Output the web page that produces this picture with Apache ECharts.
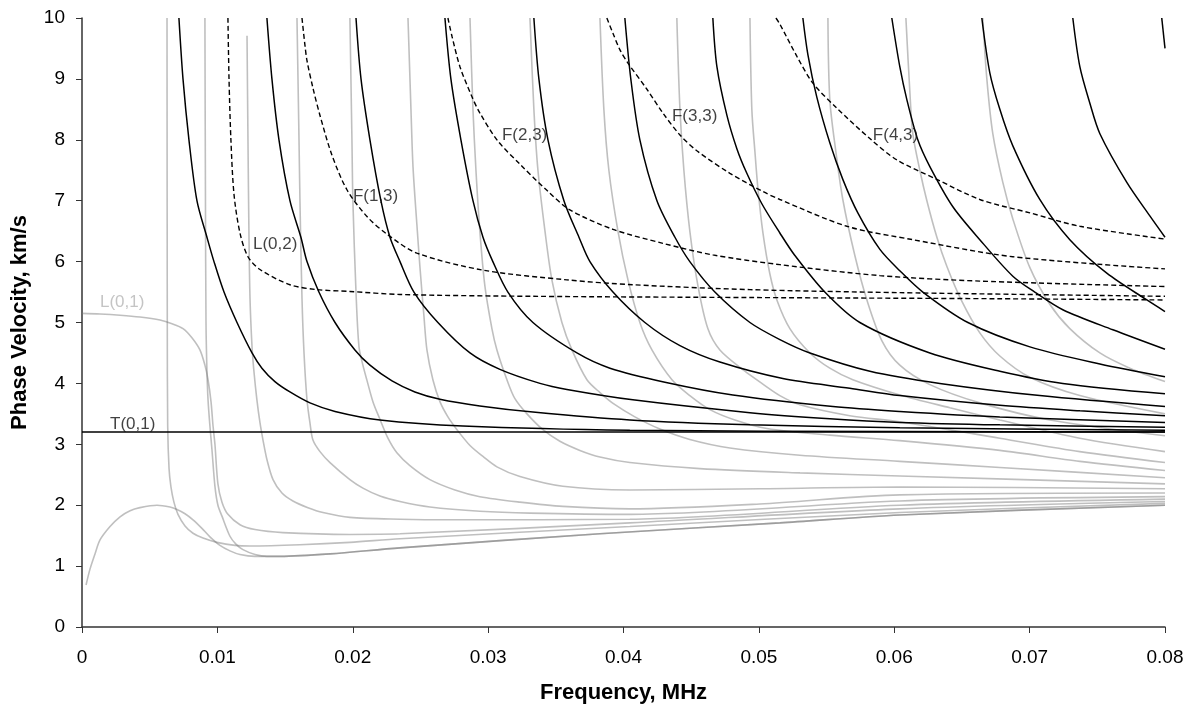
<!DOCTYPE html>
<html><head><meta charset="utf-8">
<script src="https://cdn.jsdelivr.net/npm/echarts/dist/echarts.min.js"></script>
<style>html,body{margin:0;padding:0;background:#fff}#c{width:1190px;height:711px}</style>
</head><body><div id="c"></div>
<script>
// ---- tick labels ----
const xTickLabels = ['0','0.01','0.02','0.03','0.04','0.05','0.06','0.07','0.08'];
const yTickLabels = ['0','1','2','3','4','5','6','7','8','9','10'];

// ---- gray curves [frequency MHz, phase velocity km/s] ----
const F11 = [[0.00030,0.69],[0.00059,0.95],[0.00096,1.2],[0.00133,1.43],[0.00207,1.65],[0.00281,1.81],[0.00355,1.91],[0.00428,1.96],[0.00554,2.0],[0.00650,1.97],[0.00702,1.93],[0.00761,1.86],[0.00820,1.76],[0.00886,1.62],[0.00945,1.48],[0.01019,1.34],[0.01093,1.25],[0.01167,1.19],[0.01278,1.16],[0.01462,1.16],[0.01832,1.2],[0.02349,1.3],[0.03826,1.53],[0.05155,1.71],[0.06041,1.84],[0.08,2.0]];
const L01 = [[0,5.15],[0.00133,5.14],[0.00281,5.12],[0.00428,5.09],[0.00576,5.04],[0.00665,4.98],[0.00746,4.9],[0.00812,4.75],[0.00871,4.55],[0.00908,4.3],[0.00931,4.06],[0.00953,3.7],[0.00968,3.3],[0.00982,3.0],[0.01004,2.35],[0.01034,2.05],[0.01078,1.85],[0.01167,1.68],[0.01278,1.6],[0.01484,1.55],[0.01979,1.52],[0.02349,1.53],[0.04047,1.71],[0.06041,1.94],[0.08,2.06]];
const G1 = [[0.00628,10],[0.00630,5],[0.00633,3.3],[0.00643,2.6],[0.00657,2.3],[0.00679,2.05],[0.00709,1.85],[0.00761,1.66],[0.00820,1.54],[0.00894,1.46],[0.00997,1.39],[0.01130,1.34],[0.01241,1.33],[0.01610,1.35],[0.01979,1.39],[0.02349,1.45],[0.04047,1.65],[0.06041,1.88],[0.08,2.03]];
const G2 = [[0.00908,10],[0.00912,7],[0.00916,5],[0.00923,4.2],[0.00931,3.73],[0.00945,3.3],[0.00960,2.91],[0.00982,2.31],[0.01004,2.0],[0.01034,1.82],[0.01093,1.49],[0.01137,1.36],[0.01189,1.27],[0.01278,1.19],[0.01366,1.16],[0.01462,1.16],[0.01832,1.2],[0.02349,1.3],[0.03826,1.53],[0.05155,1.71],[0.06041,1.84],[0.08,2.0]];
const G3 = [[0.01219,9.71],[0.01226,8],[0.01233,6.5],[0.01241,5.4],[0.01256,4.6],[0.01270,4.2],[0.01292,3.73],[0.01315,3.35],[0.01337,3.07],[0.01366,2.75],[0.01411,2.42],[0.01477,2.2],[0.01558,2.07],[0.01669,1.96],[0.01780,1.88],[0.01979,1.8],[0.02349,1.77],[0.02718,1.76],[0.04047,1.77],[0.06041,2.0],[0.08,2.1]];
const G4 = [[0.01588,10],[0.01603,8],[0.01610,7],[0.01625,5.4],[0.01640,4.5],[0.01662,3.73],[0.01684,3.35],[0.01706,3.07],[0.01758,2.88],[0.01832,2.7],[0.01979,2.42],[0.02075,2.28],[0.02201,2.15],[0.02349,2.06],[0.02570,1.97],[0.02939,1.9],[0.03309,1.87],[0.04047,1.85],[0.06041,2.07],[0.08,2.14]];
const G5 = [[0.01979,10],[0.01994,8],[0.02001,7],[0.02024,5.5],[0.02046,4.6],[0.02075,4.3],[0.02105,4.05],[0.02149,3.7],[0.02201,3.41],[0.02260,3.1],[0.02326,2.86],[0.02422,2.65],[0.02570,2.42],[0.02755,2.25],[0.02939,2.14],[0.03235,2.05],[0.03552,1.98],[0.04047,1.94],[0.05007,2.02],[0.06041,2.17],[0.08,2.2]];
const G6 = [[0.02408,10],[0.02430,8.5],[0.02445,7.56],[0.02474,6.6],[0.02496,5.92],[0.02526,5.1],[0.02548,4.55],[0.02592,4.06],[0.02644,3.7],[0.02703,3.45],[0.02770,3.24],[0.02866,2.98],[0.02962,2.8],[0.03065,2.63],[0.03235,2.47],[0.03552,2.31],[0.04047,2.25],[0.05007,2.27],[0.06041,2.3],[0.08,2.27]];
const G7 = [[0.02866,10],[0.02888,8.5],[0.02910,7.5],[0.02939,6.5],[0.02976,5.6],[0.03028,4.9],[0.03065,4.55],[0.03139,4.06],[0.03198,3.75],[0.03287,3.5],[0.03405,3.24],[0.03530,3.05],[0.03678,2.9],[0.03826,2.79],[0.04047,2.7],[0.04564,2.6],[0.05303,2.53],[0.06041,2.48],[0.08,2.35]];
const G8 = [[0.03309,10],[0.03338,8.5],[0.03368,7.5],[0.03420,6.5],[0.03471,5.7],[0.03545,5],[0.03619,4.55],[0.03730,4.06],[0.03826,3.85],[0.03937,3.65],[0.04084,3.45],[0.04269,3.25],[0.04490,3.08],[0.04786,2.94],[0.05303,2.82],[0.06041,2.72],[0.06780,2.62],[0.08,2.45]];
const G9 = [[0.03826,10],[0.03855,8.5],[0.03892,7.5],[0.03959,6.5],[0.04033,5.7],[0.04121,5],[0.04210,4.55],[0.04358,4.06],[0.04490,3.8],[0.04638,3.57],[0.04823,3.4],[0.05059,3.26],[0.05524,3.15],[0.06041,3.06],[0.06780,2.9],[0.07371,2.72],[0.08,2.57]];
const G10 = [[0.04394,10],[0.04417,8.5],[0.04446,7.5],[0.04490,6.5],[0.04550,5.6],[0.04623,4.9],[0.04712,4.55],[0.04897,4.2],[0.05022,4.0],[0.05155,3.8],[0.05303,3.65],[0.05672,3.47],[0.06041,3.37],[0.06780,3.1],[0.07371,2.88],[0.08,2.7]];
const G11 = [[0.04934,10],[0.04948,8.5],[0.04971,7.8],[0.04993,7.2],[0.05030,6.47],[0.05081,5.8],[0.05133,5.37],[0.05229,4.9],[0.05377,4.5],[0.05524,4.25],[0.05694,4.06],[0.06041,3.81],[0.06411,3.6],[0.06780,3.4],[0.07371,3.1],[0.08,2.88]];
const G12 = [[0.05510,10],[0.05524,8.66],[0.05569,7.8],[0.05620,7.02],[0.05709,6.1],[0.05798,5.37],[0.05909,4.7],[0.06041,4.3],[0.06263,3.98],[0.06632,3.68],[0.07149,3.4],[0.08,3.14]];
const G13 = [[0.06086,10],[0.06115,8.8],[0.06137,8.1],[0.06189,7.5],[0.06241,7.0],[0.06315,6.4],[0.06389,5.92],[0.06499,5.35],[0.06632,4.83],[0.06780,4.45],[0.07002,4.1],[0.07371,3.8],[0.08,3.5]];
const G14 = [[0.06654,10],[0.06684,9],[0.06728,8.1],[0.06802,7.3],[0.06876,6.7],[0.07002,5.9],[0.07149,5.3],[0.07297,4.9],[0.07519,4.5],[0.07740,4.25],[0.08,4.03]];

// ---- black solid curves ----
const T01 = [[0,3.2],[0.08,3.2]];
const B1 = [[0.00716,10],[0.00746,9],[0.00790,8],[0.00849,7],[0.00923,6.4],[0.00975,6],[0.01049,5.5],[0.01145,5],[0.01256,4.5],[0.01329,4.25],[0.01425,4.03],[0.01536,3.86],[0.01684,3.68],[0.01869,3.54],[0.02201,3.4],[0.02814,3.3],[0.04047,3.23],[0.06041,3.21],[0.08,3.2]];
const B2 = [[0.01366,10],[0.01403,9],[0.01455,8],[0.01536,7],[0.01617,6.4],[0.01662,6],[0.01750,5.5],[0.01869,5],[0.02016,4.55],[0.02127,4.3],[0.02290,4.04],[0.02459,3.86],[0.02644,3.74],[0.02939,3.63],[0.03331,3.53],[0.04047,3.4],[0.04934,3.32],[0.06041,3.27],[0.08,3.23]];
const B3 = [[0.02024,10],[0.02061,9],[0.02127,8],[0.02208,7],[0.02275,6.4],[0.02349,6],[0.02452,5.5],[0.02629,5],[0.02866,4.5],[0.03087,4.23],[0.03383,4.0],[0.03582,3.9],[0.04069,3.73],[0.04934,3.52],[0.05524,3.42],[0.06041,3.36],[0.06780,3.32],[0.08,3.28]];
const B4 = [[0.02681,10],[0.02725,9],[0.02799,8],[0.02888,7],[0.02962,6.4],[0.03035,6],[0.03146,5.5],[0.03331,5],[0.03656,4.5],[0.03900,4.25],[0.04306,4.02],[0.04808,3.81],[0.05547,3.62],[0.06041,3.54],[0.06780,3.45],[0.08,3.36]];
const B5 = [[0.03338,10],[0.03375,9],[0.03442,8],[0.03560,7],[0.03671,6.4],[0.03752,6],[0.03922,5.5],[0.04158,5],[0.04417,4.62],[0.04712,4.35],[0.05177,4.08],[0.05672,3.92],[0.06041,3.8],[0.06780,3.64],[0.07371,3.55],[0.08,3.47]];
const B6 = [[0.04010,10],[0.04054,9],[0.04121,8],[0.04247,7],[0.04380,6.4],[0.04490,6],[0.04675,5.5],[0.04934,5.0],[0.05155,4.72],[0.05377,4.5],[0.05820,4.2],[0.06337,4.0],[0.07075,3.8],[0.08,3.62]];
const B7 = [[0.04660,10],[0.04690,9.2],[0.04764,8.4],[0.04838,7.85],[0.04911,7.45],[0.05022,6.95],[0.05155,6.47],[0.05266,6.1],[0.05487,5.5],[0.05746,5.0],[0.06263,4.5],[0.06780,4.2],[0.07245,4.0],[0.08,3.83]];
const B8 = [[0.05325,10],[0.05362,9.4],[0.05428,8.7],[0.05524,7.95],[0.05620,7.35],[0.05731,6.8],[0.05894,6.2],[0.06041,5.85],[0.06211,5.5],[0.06544,5.0],[0.07002,4.6],[0.07519,4.32],[0.08,4.11]];
const B9 = [[0.05982,10],[0.06041,9.2],[0.06093,8.66],[0.06174,8],[0.06263,7.56],[0.06433,6.9],[0.06632,6.36],[0.06876,5.76],[0.07038,5.5],[0.07245,5.21],[0.07615,4.88],[0.08,4.56]];
const B10 = [[0.06647,10],[0.06706,9.1],[0.06780,8.5],[0.06876,7.9],[0.07075,7.02],[0.07297,6.36],[0.07570,5.81],[0.07866,5.37],[0.08,5.18]];
const B11 = [[0.07319,10],[0.07371,9.2],[0.07445,8.6],[0.07519,8.1],[0.07718,7.3],[0.07888,6.75],[0.08,6.4]];
const B12 = [[0.07976,10],[0.08,9.5]];

// ---- black dashed curves ----
const L02 = [[0.01078,10],[0.01086,9],[0.01100,8],[0.01123,7.1],[0.01167,6.47],[0.01226,6.08],[0.01315,5.87],[0.01536,5.62],[0.01736,5.54],[0.01979,5.51],[0.02349,5.46],[0.03331,5.43],[0.04934,5.41],[0.06780,5.39],[0.08,5.37]];
const F13 = [[0.01625,10],[0.01647,9.55],[0.01662,9.3],[0.01706,8.85],[0.01758,8.4],[0.01846,7.75],[0.01957,7.18],[0.02105,6.74],[0.02253,6.45],[0.02474,6.14],[0.02962,5.86],[0.03582,5.7],[0.04069,5.62],[0.04934,5.54],[0.06041,5.49],[0.08,5.43]];
const F23 = [[0.02703,10],[0.02733,9.7],[0.02792,9.2],[0.02880,8.71],[0.02939,8.44],[0.03072,7.98],[0.03235,7.6],[0.03434,7.17],[0.03604,6.85],[0.03922,6.53],[0.04291,6.3],[0.04660,6.11],[0.05155,5.95],[0.05894,5.77],[0.06632,5.68],[0.08,5.59]];
const F33 = [[0.03877,10],[0.03922,9.75],[0.03973,9.48],[0.04033,9.26],[0.04173,8.83],[0.04291,8.44],[0.04417,8.08],[0.04542,7.82],[0.04786,7.45],[0.05030,7.15],[0.05155,7.02],[0.05650,6.58],[0.06137,6.36],[0.06876,6.08],[0.08,5.88]];
const F43 = [[0.05126,10],[0.05155,9.9],[0.05281,9.37],[0.05399,8.93],[0.05576,8.52],[0.05820,8.02],[0.06019,7.67],[0.06315,7.35],[0.06632,7.02],[0.07002,6.8],[0.07371,6.58],[0.08,6.37]];

// ---- mode labels: [frequency, velocity, text] ----
const grayLabels = [[0.00133,5.33,'L(0,1)']];
const blackLabels = [[0.00207,3.32,'T(0,1)'],[0.01263,6.29,'L(0,2)'],[0.02001,7.08,'F(1,3)'],[0.03102,8.08,'F(2,3)'],[0.04358,8.38,'F(3,3)'],[0.05842,8.08,'F(4,3)']];

const FONT = 'Liberation Sans, Arial, Helvetica, sans-serif';
const grayCurves = [F11, G2, L01, G1, G3, G4, G5, G6, G7, G8, G9, G10, G11, G12, G13, G14];
const blackCurves = [T01, B1, B2, B3, B4, B5, B6, B7, B8, B9, B10, B11, B12];
const dashedCurves = [L02, F13, F23, F33, F43];

const series = [];
grayCurves.forEach(d => series.push({
  type: 'line', data: d, showSymbol: false, symbol: 'none', smooth: 0.3, silent: true, z: 2,
  lineStyle: { color: '#7a7a7a', width: 1.6, opacity: 0.48 }
}));
dashedCurves.forEach(d => series.push({
  type: 'line', data: d, showSymbol: false, symbol: 'none', smooth: 0.3, silent: true, z: 3,
  lineStyle: { color: '#000', width: 1.4, type: [5, 3] }
}));
blackCurves.forEach(d => series.push({
  type: 'line', data: d, showSymbol: false, symbol: 'none', smooth: 0.3, silent: true, z: 4,
  lineStyle: { color: '#000', width: 1.5 }
}));
function labelSeries(arr, color) {
  return {
    type: 'scatter', data: arr, symbolSize: 0, silent: true, z: 6,
    label: { show: true, position: 'right', distance: 0, color: color, fontFamily: FONT, fontSize: 17,
      formatter: p => p.data[2] }
  };
}
series.push(labelSeries(grayLabels, '#b5b5b5'));
series.push(labelSeries(blackLabels, '#111'));

const chart = echarts.init(document.getElementById('c'), null, { renderer: 'canvas' });
chart.setOption({
  animation: false,
  backgroundColor: '#fff',
  grid: { left: 82, right: 25, top: 18, bottom: 84, containLabel: false, outerBoundsMode: 'none' },
  xAxis: {
    type: 'value', min: 0, max: 0.08, interval: 0.01,
    name: 'Frequency, MHz', nameLocation: 'middle', nameGap: 55,
    nameTextStyle: { fontFamily: FONT, fontSize: 22, fontWeight: 'bold', color: '#000' },
    axisLine: { show: true, onZero: false, lineStyle: { color: '#333', width: 1.5 } },
    axisTick: { show: true, inside: false, length: 6, lineStyle: { color: '#333' } },
    axisLabel: { margin: 21, fontFamily: FONT, fontSize: 19, color: '#000',
      formatter: (v, i) => xTickLabels[i] },
    splitLine: { show: false }
  },
  yAxis: {
    type: 'value', min: 0, max: 10, interval: 1,
    name: 'Phase Velocity, km/s', nameLocation: 'middle', nameGap: 51,
    nameTextStyle: { fontFamily: FONT, fontSize: 22, fontWeight: 'bold', color: '#000' },
    axisLine: { show: true, onZero: false, lineStyle: { color: '#333', width: 1.5 } },
    axisTick: { show: true, inside: false, length: 6, lineStyle: { color: '#333' } },
    axisLabel: { margin: 17, fontFamily: FONT, fontSize: 19, color: '#000',
      formatter: (v, i) => yTickLabels[i] },
    splitLine: { show: false }
  },
  series: series
});
</script></body></html>
